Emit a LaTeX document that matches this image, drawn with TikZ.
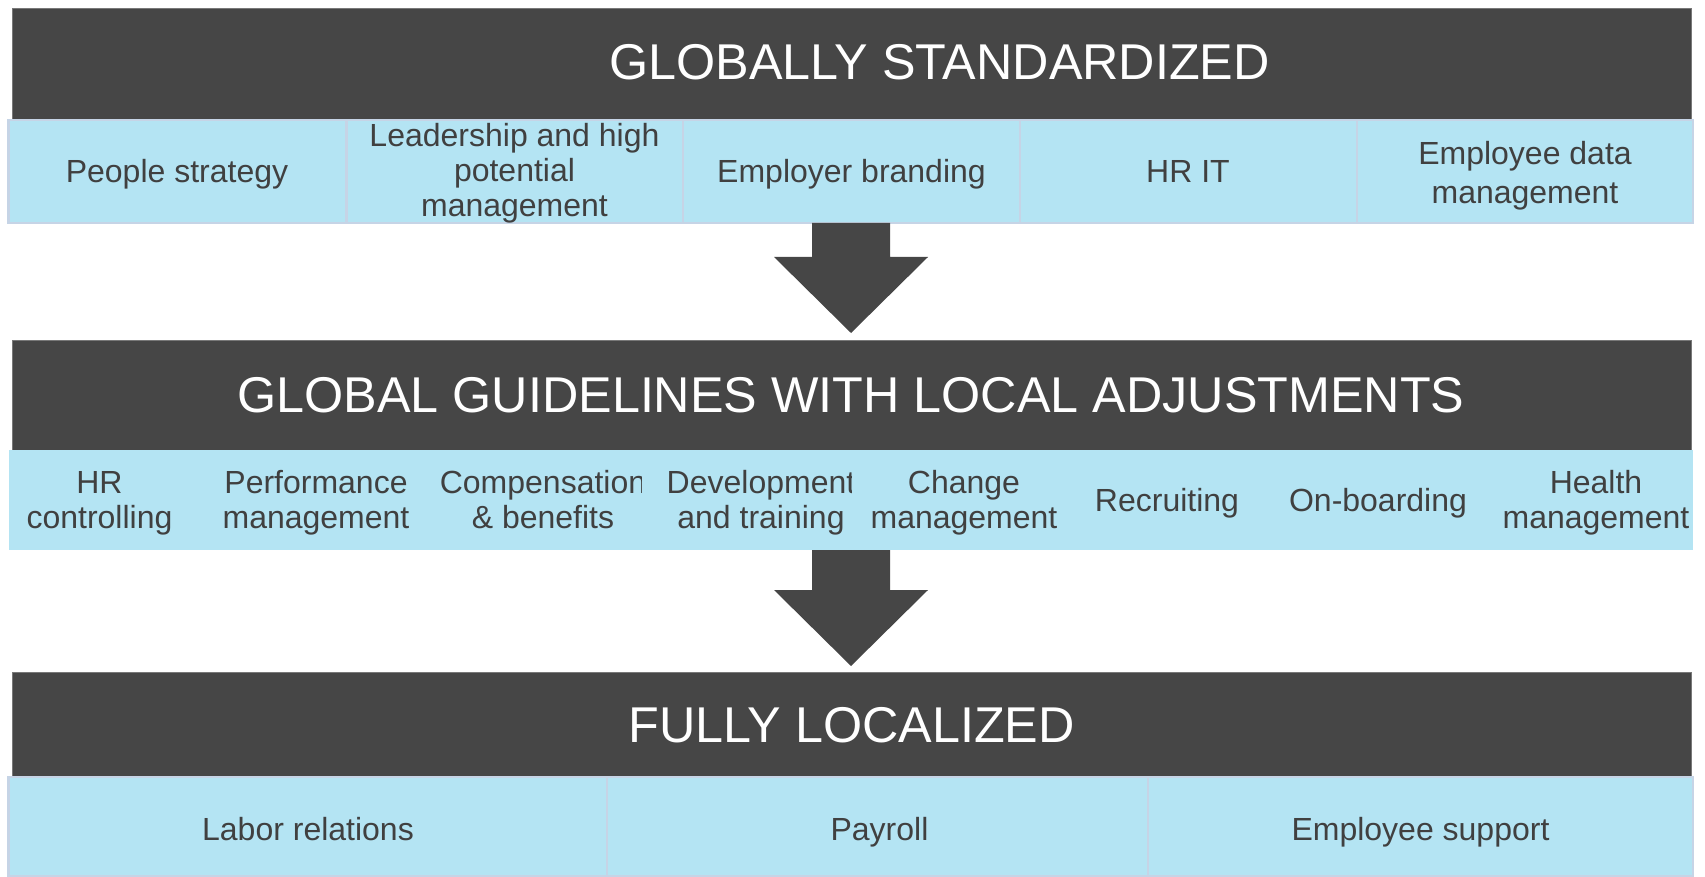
\documentclass[tikz,border=0pt]{standalone}
\usepackage{fontspec}
\setmainfont{Liberation Sans}
\definecolor{barfill}{RGB}{70,70,70}
\definecolor{baredge}{RGB}{120,120,120}
\definecolor{cellfill}{RGB}{180,228,243}
\definecolor{cellline}{RGB}{198,212,230}
\definecolor{itemtext}{RGB}{64,64,64}
\begin{document}
\begin{tikzpicture}[x=1pt,y=-1pt,
  bar/.style={rectangle, fill=barfill, draw=baredge, line width=0.8pt, inner sep=0pt, outer sep=0pt, minimum width=1678.5pt},
  cell/.style={rectangle, fill=cellfill, draw=cellline, line width=2.5pt, inner sep=0pt, outer sep=0pt},
  band/.style={rectangle, fill=cellfill, inner sep=0pt, outer sep=0pt},
  title/.style={text=white, font=\fontsize{50.3}{60}\selectfont, inner sep=0pt, anchor=base},
  item/.style={text=itemtext, font=\fontsize{32}{35}\selectfont, align=center, inner sep=0pt},
  itembase/.style={item, anchor=base},
  blockarrow/.style={fill=barfill}
]
\useasboundingbox (0,0) rectangle (1705,877);

% ---------- tier 1 ----------
\node[bar, minimum height=111.5pt] (bar1) at (851.75,64.25) {};
\node[title] (t1) at (939.5,79.5) {GLOBALLY STANDARDIZED};

\node[cell, minimum width=338pt,   minimum height=103pt] (a1) at (177.5,171.5) {};
\node[cell, minimum width=336.5pt, minimum height=103pt] (a2) at (514.75,171.5) {};
\node[cell, minimum width=337pt,   minimum height=103pt] (a3) at (851.5,171.5) {};
\node[cell, minimum width=337pt,   minimum height=103pt] (a4) at (1188.5,171.5) {};
\node[cell, minimum width=336pt,   minimum height=103pt] (a5) at (1525,171.5) {};

\node[itembase] (la1) at (177,183) {People strategy};
\node[item] (la2) at (514.5,173) {Leadership and high\\potential\\management};
\node[itembase] (la3) at (851.5,183) {Employer branding};
\node[itembase] (la4) at (1188,183) {HR IT};
\node[item, font=\fontsize{32}{39}\selectfont] (la5) at (1525,176.2) {Employee data\\management};

% arrow from tier 1 to tier 2
\fill[blockarrow] (812,223) -- (890,223) -- (890,257) -- (928,257) -- (851,333)
  -- (774,257) -- (812,257) -- cycle;

% ---------- tier 2 ----------
\node[bar, minimum height=110pt] (bar2) at (851.75,395) {};
\node[title] (t2) at (851,412) {GLOBAL GUIDELINES WITH LOCAL ADJUSTMENTS};

\node[band, minimum width=1684.5pt, minimum height=100pt] (b0) at (850.75,500) {};

\node[item] (lb1) at (99.5,503) {HR\\controlling};
\node[item] (lb2) at (316,502.7) {Performance\\management};
\begin{scope}
  \clip (0,450) rectangle (641,550);
  \node[item] (lb3) at (543,499.5) {Compensation\\\& benefits};
\end{scope}
\begin{scope}
  \clip (641,450) rectangle (851,550);
  \node[item] (lb4) at (761,502.7) {Development\\and training};
\end{scope}
\node[item] (lb5) at (964,502.7) {Change\\management};
\node[itembase] (lb6) at (1167,511) {Recruiting};
\node[itembase] (lb7) at (1378,511) {On-boarding};
\node[item] (lb8) at (1596,502.7) {Health\\management};

% arrow from tier 2 to tier 3
\fill[blockarrow] (812,550) -- (890,550) -- (890,590) -- (928,590) -- (851,666)
  -- (774,590) -- (812,590) -- cycle;

% ---------- tier 3 ----------
\node[bar, minimum height=105pt] (bar3) at (851.75,724.5) {};
\node[title] (t3) at (851.5,742) {FULLY LOCALIZED};

\node[cell, minimum width=598.5pt, minimum height=99pt] (c1) at (307.75,826.5) {};
\node[cell, minimum width=541pt,   minimum height=99pt] (c2) at (877.5,826.5) {};
\node[cell, minimum width=545pt,   minimum height=99pt] (c3) at (1420.5,826.5) {};

\node[itembase] (lc1) at (308,840) {Labor relations};
\node[itembase] (lc2) at (879.5,840) {Payroll};
\node[itembase] (lc3) at (1420.5,840) {Employee support};
\end{tikzpicture}
\end{document}
